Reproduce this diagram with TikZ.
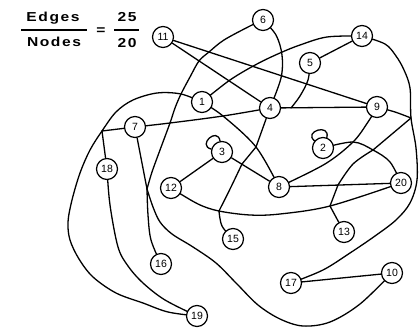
\documentclass[tikz,border=0pt]{standalone}
\usepackage{fontspec}
\setmainfont{Liberation Sans}
\newfontfamily\hdrfont{Liberation Sans}[FakeStretch=1.2,LetterSpace=12]
\usetikzlibrary{backgrounds}
\begin{document}
\begin{tikzpicture}[x=1pt,y=1pt,
  vtx/.style={circle,draw,line width=1.2pt,fill=white,minimum size=21pt,inner sep=0pt,font=\fontsize{10.5}{10.5}\selectfont},
  wire/.style={line width=1.3pt,line join=round,line cap=round},
  hdr/.style={font=\hdrfont\bfseries\fontsize{13}{13}\selectfont,inner sep=0pt},
  sm/.style={smooth,tension=0.55}]
\useasboundingbox (0,0) rectangle (420,-329);
% header
\node[hdr] (ed) at (53,-18) {Edges};
\node[hdr] (nd) at (54,-42) {Nodes};
\node[hdr] (eq) at (101,-31) {=};
\node[hdr] (ne) at (127,-17) {25};
\node[hdr] (nn) at (127,-43) {20};
\draw[line width=1.5pt] (21,-30) -- (87,-30);
\draw[line width=1.5pt] (114,-30) -- (139,-30);
% vertices
\node[vtx] (n1) at (202,-102) {1};
\node[vtx] (n2) at (323,-148) {2};
\node[vtx] (n3) at (222,-152) {3};
\node[vtx] (n4) at (270,-108) {4};
\node[vtx] (n5) at (310,-63) {5};
\node[vtx] (n6) at (263,-20) {6};
\node[vtx] (n7) at (135,-127) {7};
\node[vtx] (n8) at (279,-187) {8};
\node[vtx] (n9) at (377,-107) {9};
\node[vtx] (n10) at (392,-273) {10};
\node[vtx] (n11) at (163,-37) {11};
\node[vtx] (n12) at (171,-188) {12};
\node[vtx] (n13) at (344,-232) {13};
\node[vtx] (n14) at (362,-36) {14};
\node[vtx] (n15) at (233,-239) {15};
\node[vtx] (n16) at (161,-264) {16};
\node[vtx] (n17) at (291,-283) {17};
\node[vtx] (n18) at (107,-169) {18};
\node[vtx] (n19) at (197,-316) {19};
\node[vtx] (n20) at (401,-183) {20};
% junctions
\coordinate (jA) at (209,-52);
\coordinate (jB) at (199,-61);
\coordinate (j1) at (181,-94);
\coordinate (j7) at (102,-131);
\coordinate (jc) at (170,-123);
\coordinate (ja) at (147,-189);
\coordinate (jd) at (256,-147);
\coordinate (je) at (242,-164);
\coordinate (jf) at (219,-211);
\coordinate (jg) at (338,-185);
\coordinate (jh) at (330,-206);
\coordinate (ji) at (353,-142);
\coordinate (jj) at (373,-150);
\coordinate (jk) at (411,-118);
\coordinate (jl) at (291,-108);
\begin{scope}[on background layer]
\draw[wire] (n11) -- (n9);
\draw[wire] (n11) -- (n4);
\draw[wire] plot[sm] coordinates {(n6) (250,-26) (224,-40) (jA) (jB) (190,-77) (j1) (175,-108) (jc) (160,-150) (152,-172) (ja)};
\draw[wire] plot[sm] coordinates {(n6) (276,-35) (282,-55) (281,-78) (n4)};
\draw[wire] plot[sm] coordinates {(n14) (327,-37) (300,-45) (280,-53) (257,-64) (230,-80) (n1)};
\draw[wire] (n14) -- (n5);
\draw[wire] plot[sm] coordinates {(n5) (308,-80) (300,-96) (jl)};
\draw[wire] (n4) -- (n9);
\draw[wire] plot[sm] coordinates {(n9) (368,-122) (ji) (325,-164) (n8)};
\draw[wire] plot[sm] coordinates {(n2) (ji) (jj) (390,-162) (n20)};
\draw[wire] (jk) -- (jj);
\draw[wire] plot[sm] coordinates {(jj) (353,-164) (jg)};
\draw[wire] (n8) -- (n20);
\draw[wire] (jg) -- (jh);
\draw[wire] plot[sm] coordinates {(n12) (198,-204) (jf) (250,-215) (280,-214) (jh) (n20)};
\draw[wire] (jh) -- (n13);
\draw[wire] plot[sm] coordinates {(jf) (222,-226) (n15)};
\draw[wire] (n3) -- (n12);
\draw[wire] (n3) -- (n8);
\draw[wire] plot[sm] coordinates {(je) (231,-187) (jf)};
\draw[wire] (je) -- (jd) -- (n4);
\draw[wire] plot[sm] coordinates {(n1) (223,-116) (jd) (n8)};
\draw[wire] plot[sm] coordinates {(n7) (jc) (223,-116) (n4)};
\draw[wire] (j7) -- (n7);
\draw[wire] plot[sm] coordinates {(n1) (j1) (157,-93) (133,-100) (116,-112) (j7) (90,-150) (80,-173) (72,-200) (68,-222) (70,-240) (79,-259) (93,-277) (116,-293) (143,-303) (168,-312) (n19)};
\draw[wire] (j7) -- (n18);
\draw[wire] plot[sm] coordinates {(n18) (110,-205) (118,-247) (128,-266) (143,-283) (165,-300) (n19)};
\draw[wire] (n7) -- (ja);
\draw[wire] plot[sm] coordinates {(ja) (148,-215) (151,-240) (n16)};
\draw[wire] plot[sm] coordinates {(ja) (153,-207) (160,-222) (172,-234) (193,-247) (216,-263) (237,-284) (258,-305) (280,-319) (303,-326) (330,-322) (360,-304) (n10)};
\draw[wire] (n17) -- (n10);
\draw[wire] plot[sm] coordinates {(n14) (385,-44) (396,-56) (404,-70) (410,-88) (jk) (416,-148) (417,-180) (410,-203) (396,-220) (375,-236) (350,-253) (323,-270) (n17)};
\draw[wire] plot[sm] coordinates {(n9) (395,-112) (jk)};
\draw[wire] (n3.100) .. controls +(100:15) and +(165:15) .. (n3.165);
\draw[wire] (n2.70) .. controls +(75:15) and +(140:15) .. (n2.140);
\end{scope}
\end{tikzpicture}
\end{document}
